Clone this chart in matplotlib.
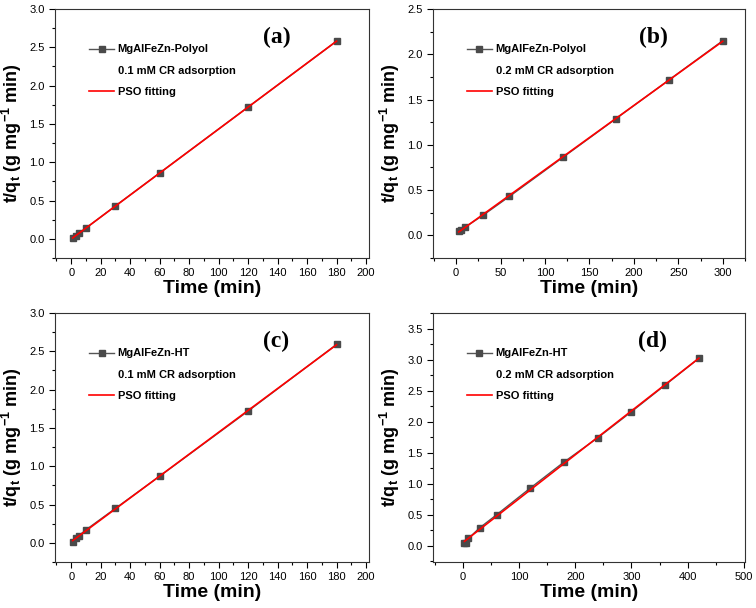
import numpy as np
import matplotlib
matplotlib.use("Agg")
import matplotlib.pyplot as plt
from matplotlib.lines import Line2D
from matplotlib.ticker import MultipleLocator, AutoMinorLocator, FormatStrFormatter

plt.rcParams['font.family'] = ['Liberation Sans', 'DejaVu Sans']
plt.rcParams['mathtext.fontset'] = 'custom'
plt.rcParams['mathtext.rm'] = 'Liberation Sans:bold'
plt.rcParams['mathtext.it'] = 'Liberation Sans:bold'
plt.rcParams['mathtext.default'] = 'rm'

# (a) MgAlFeZn-Polyol, 0.1 mM
t_a = [1, 3, 5, 10, 30, 60, 120, 180]
y_a = [0.01, 0.04, 0.07, 0.14, 0.43, 0.86, 1.72, 2.58]
# (b) MgAlFeZn-Polyol, 0.2 mM
t_b = [3, 5, 10, 30, 60, 120, 180, 240, 300]
y_b = [0.05, 0.06, 0.09, 0.22, 0.43, 0.86, 1.29, 1.72, 2.15]
# (c) MgAlFeZn-HT, 0.1 mM
t_c = [1, 3, 5, 10, 30, 60, 120, 180]
y_c = [0.01, 0.06, 0.09, 0.17, 0.45, 0.87, 1.72, 2.59]
# (d) MgAlFeZn-HT, 0.2 mM
t_d = [3, 5, 10, 30, 60, 120, 180, 240, 300, 360, 420]
y_d = [0.04, 0.05, 0.12, 0.29, 0.50, 0.93, 1.35, 1.74, 2.16, 2.59, 3.02]

panels = [
    dict(t=t_a, y=y_a, name="MgAlFeZn-Polyol", conc="0.1 mM CR adsorption", tag="(a)",
         xlim=(-11, 202), xmaj=20, ylim=(-0.25, 3.0), ymaj=0.5),
    dict(t=t_b, y=y_b, name="MgAlFeZn-Polyol", conc="0.2 mM CR adsorption", tag="(b)",
         xlim=(-26, 325), xmaj=50, ylim=(-0.25, 2.5), ymaj=0.5),
    dict(t=t_c, y=y_c, name="MgAlFeZn-HT", conc="0.1 mM CR adsorption", tag="(c)",
         xlim=(-11, 202), xmaj=20, ylim=(-0.25, 3.0), ymaj=0.5),
    dict(t=t_d, y=y_d, name="MgAlFeZn-HT", conc="0.2 mM CR adsorption", tag="(d)",
         xlim=(-53, 502), xmaj=100, ylim=(-0.26, 3.75), ymaj=0.5),
]

W, H = 756, 608
fig = plt.figure(figsize=(W / 100, H / 100), dpi=100)

# axes boxes in pixels: left, top, right, bottom
boxes = [(55, 9, 369, 258), (433, 9, 745, 258),
         (55, 313, 369, 562), (433, 313, 745, 562)]

for p, (l, t, r, b) in zip(panels, boxes):
    ax = fig.add_axes([l / W, 1 - b / H, (r - l) / W, (b - t) / H])
    x = np.array(p["t"], dtype=float)
    y = np.array(p["y"], dtype=float)
    ax.plot(x, y, color='#555555', lw=1.0, marker='s', ms=5,
            mfc='#4a4a4a', mec='#4a4a4a')
    # PSO linear fit t/qt = 1/(k qe^2) + t/qe
    k, c = np.polyfit(x, y, 1)
    xf = np.array([x[0], x[-1]])
    ax.plot(xf, c + k * xf, color='red', lw=1.2)

    ax.set_xlim(*p["xlim"])
    ax.set_ylim(*p["ylim"])
    ax.xaxis.set_major_locator(MultipleLocator(p["xmaj"]))
    ax.yaxis.set_major_locator(MultipleLocator(p["ymaj"]))
    ax.xaxis.set_minor_locator(AutoMinorLocator(2))
    ax.yaxis.set_minor_locator(AutoMinorLocator(2))
    ax.yaxis.set_major_formatter(FormatStrFormatter('%.1f'))
    ax.tick_params(which='major', direction='out', length=4, width=0.8,
                   labelsize=8, top=False, right=False)
    ax.tick_params(which='minor', direction='out', length=2.5, width=0.8,
                   top=False, right=False)
    for s in ax.spines.values():
        s.set_linewidth(0.8)
        s.set_color('#333333')

    ax.set_xlabel("Time (min)", fontsize=14, fontweight='bold', labelpad=1)
    ax.set_ylabel(r"t/q$_{t}$ (g mg$^{-1}$ min)", fontsize=13,
                  fontweight='bold')
    ax.yaxis.set_label_coords(-0.098, 0.5)

    handles = [
        Line2D([], [], color='#555555', lw=1.0, marker='s', ms=4,
               mfc='#4a4a4a', mec='#4a4a4a'),
        Line2D([], [], color='none'),
        Line2D([], [], color='red', lw=1.2),
    ]
    ax.legend(handles, [p["name"], p["conc"], "PSO fitting"],
              loc='upper left', bbox_to_anchor=(0.09, 0.88), frameon=False,
              borderpad=0, handlelength=2.3, handletextpad=0.3,
              labelspacing=1.0, prop={'weight': 'bold', 'size': 8})

    ax.text(0.705, 0.885, p["tag"], transform=ax.transAxes, ha='center',
            va='center', fontsize=17, fontweight='bold',
            family='Liberation Serif')

fig.savefig("out.png", dpi=100)
